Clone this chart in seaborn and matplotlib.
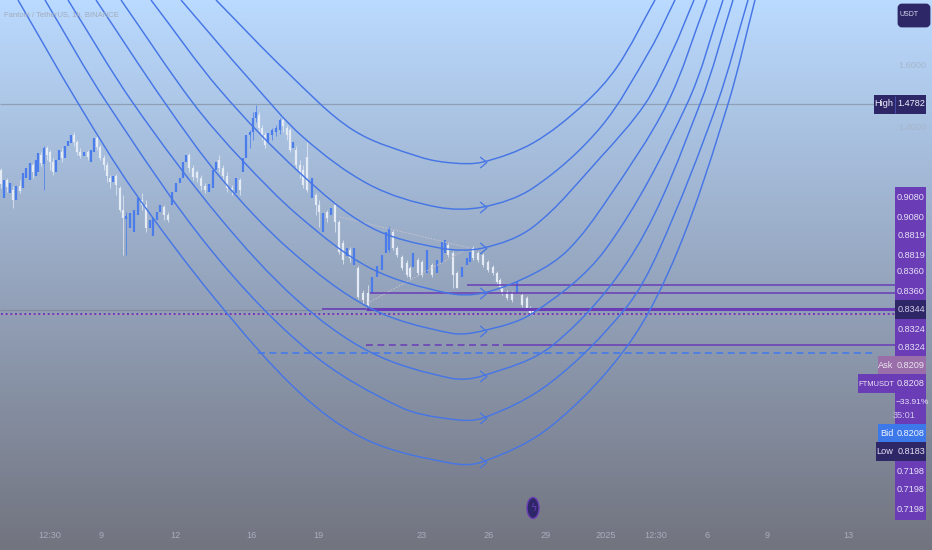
"""
FTM/USDT 1h chart with a fan of arcs, drawn on a chart-unit axis (0-932, 550-0).
"""

import matplotlib.pyplot as plt
from matplotlib.colors import LinearSegmentedColormap
from matplotlib.patches import Rectangle, FancyBboxPatch, Ellipse, PathPatch
from matplotlib.path import Path
import numpy as np
import pandas as pd
import seaborn as sns

# candles, values in chart units (smaller = higher price)
candle_x = [1, 4, 7, 10, 13, 16, 20, 23, 26, 30, 33, 36, 38, 41, 44, 47, 50, 53, 56, 59,
            62, 65, 68, 71, 74, 77, 80, 84, 88, 91, 94, 97, 100, 104, 107, 110, 113, 116, 120, 123,
            126, 130, 134, 138, 142, 146, 150, 153, 157, 160, 164, 168, 172, 176, 180, 183, 186, 189, 193, 197,
            201, 205, 209, 213, 216, 219, 223, 227, 232, 236, 240, 243, 246, 250, 253, 256, 259, 262, 265, 268,
            272, 276, 280, 283, 287, 290, 293, 296, 300, 303, 307, 312, 316, 319, 323, 327, 331, 335, 339, 343,
            347, 350, 354, 358, 363, 368, 372, 377, 382, 386, 389, 393, 397, 402, 407, 410, 413, 418, 422, 427,
            432, 437, 442, 445, 448, 453, 457, 462, 467, 470, 473, 478, 483, 488, 493, 497, 500, 502, 507, 512,
            517, 522, 527, 530, 533]
candle_open = [170, 198, 180, 193, 190, 200, 186, 188, 178, 180, 165, 176, 172, 155, 164, 148, 152, 162, 172, 160,
               152, 158, 146, 143, 135, 142, 152, 156, 152, 162, 152, 138, 147, 158, 165, 178, 182, 176, 188, 210,
               219, 228, 232, 215, 200, 205, 228, 236, 220, 212, 207, 215, 205, 192, 183, 178, 162, 155, 168, 172,
               178, 186, 192, 188, 170, 160, 168, 176, 188, 193, 180, 172, 158, 135, 132, 118, 115, 128, 135, 142,
               135, 132, 130, 120, 128, 130, 148, 150, 165, 170, 157, 198, 195, 205, 232, 212, 215, 205, 222, 243,
               256, 250, 265, 268, 293, 293, 293, 277, 270, 253, 250, 232, 248, 257, 263, 268, 267, 260, 262, 273,
               265, 273, 263, 253, 245, 253, 273, 277, 265, 262, 248, 253, 255, 262, 267, 273, 280, 287, 292, 293,
               293, 295, 298, 308, 310]
candle_close = [184, 180, 187, 183, 200, 186, 191, 173, 168, 163, 172, 160, 153, 163, 148, 155, 162, 172, 160, 150,
                158, 146, 141, 135, 142, 152, 156, 152, 157, 150, 138, 147, 158, 165, 176, 182, 176, 185, 210, 218,
                216, 213, 210, 198, 205, 228, 220, 218, 212, 205, 215, 220, 192, 183, 178, 162, 155, 168, 177, 178,
                186, 190, 184, 170, 162, 168, 176, 188, 190, 178, 190, 158, 135, 132, 118, 112, 128, 135, 145, 133,
                130, 128, 120, 126, 135, 150, 142, 165, 172, 185, 190, 178, 205, 212, 213, 218, 208, 222, 252, 260,
                248, 258, 248, 297, 300, 305, 277, 266, 255, 232, 228, 248, 255, 268, 275, 277, 253, 273, 275, 250,
                275, 260, 242, 240, 255, 275, 288, 267, 258, 252, 258, 260, 265, 270, 273, 282, 287, 293, 298, 300,
                282, 305, 308, 313, 313]
candle_high = [168, 200, 178, 195, 186, 205, 180, 190, 180, 182, 163, 178, 175, 152, 146, 146, 150, 158, 174, 162,
               148, 162, 150, 146, 132, 140, 148, 157, 150, 165, 155, 136, 145, 155, 162, 175, 184, 174, 186, 195,
               212, 232, 240, 218, 193, 200, 232, 238, 222, 215, 205, 212, 208, 195, 185, 182, 165, 153, 165, 170,
               175, 183, 195, 198, 172, 155, 165, 172, 185, 197, 178, 180, 165, 130, 112, 105, 112, 125, 132, 145,
               128, 125, 118, 118, 125, 128, 152, 146, 160, 165, 142, 202, 193, 200, 237, 210, 218, 202, 220, 240,
               262, 247, 267, 266, 290, 285, 295, 280, 272, 256, 226, 230, 246, 255, 260, 266, 269, 258, 260, 275,
               263, 275, 265, 253, 243, 251, 271, 279, 267, 264, 246, 251, 253, 260, 265, 271, 278, 285, 290, 291,
               295, 293, 296, 306, 308]
candle_low = [188, 200, 192, 195, 208, 205, 193, 190, 180, 182, 178, 178, 175, 166, 190, 160, 170, 175, 174, 162,
              162, 162, 150, 146, 146, 155, 158, 157, 160, 165, 155, 150, 160, 170, 182, 188, 184, 195, 212, 255,
              255, 232, 240, 218, 210, 232, 232, 238, 222, 215, 220, 222, 208, 195, 185, 182, 165, 172, 180, 182,
              190, 193, 195, 198, 172, 172, 180, 192, 195, 197, 195, 180, 165, 148, 140, 122, 132, 140, 148, 145,
              140, 136, 134, 132, 140, 152, 152, 170, 178, 188, 192, 202, 215, 227, 237, 222, 218, 232, 254, 264,
              262, 262, 267, 299, 304, 307, 295, 280, 272, 256, 252, 250, 257, 270, 277, 279, 269, 275, 277, 275,
              277, 275, 265, 253, 257, 288, 288, 279, 267, 264, 260, 262, 267, 272, 275, 284, 289, 295, 300, 302,
              295, 307, 310, 315, 315]

# arcs: x and y
arc1_x = [216, 287, 353, 420, 453, 483, 533, 583, 617, 655]
arc1_y = [0, 72, 130, 157, 163, 162, 143, 105, 67, 0]
arc2_x = [181, 250, 303, 370, 437, 483, 533, 600, 650, 675]
arc2_y = [0, 80, 137, 185, 207, 207, 188, 128, 50, 0]
arc3_x = [151, 220, 300, 370, 440, 483, 533, 600, 645, 672, 694]
arc3_y = [0, 90, 173, 227, 248, 248, 227, 158, 104, 52, 0]
arc4_x = [121, 193, 242, 300, 370, 447, 483, 533, 568, 607, 667, 707]
arc4_y = [0, 103, 160, 217, 268, 293, 293, 274, 250, 200, 104, 0]
arc5_x = [96, 165, 220, 290, 370, 450, 482, 533, 605, 687, 723]
arc5_y = [0, 103, 177, 250, 308, 333, 331, 313, 250, 104, 0]
arc6_x = [68, 133, 220, 297, 370, 450, 482, 553, 635, 700, 733]
arc6_y = [0, 103, 218, 300, 352, 378, 376, 345, 250, 104, 0]
arc7_x = [45, 107, 211, 310, 400, 450, 483, 550, 625, 659, 717, 748]
arc7_y = [0, 103, 250, 352, 407, 419, 418, 383, 309, 250, 104, 0]
arc8_x = [18, 78, 133, 216, 300, 367, 450, 482, 550, 628, 678, 728, 755]
arc8_y = [0, 103, 190, 300, 393, 440, 463, 462, 427, 345, 250, 104, 0]
arc_bottoms = [162, 207, 248, 293, 331, 376, 418, 462]

# price scale and time scale labels
scale_prices = ['1.6000', '1.4000']
scale_price_y = [65, 128]
purple_labels = ['0.9080', '0.9080', '0.8819', '0.8819', '0.8360', '0.8360', '0.8324', '0.8324', '0.7198', '0.7198', '0.7198']
purple_label_y = [197, 217, 236, 255, 272, 291, 329, 348, 471, 490, 509]
time_labels = ['12:30', '9', '12', '16', '19', '23', '26', '29', '2025', '12:30', '6', '9', '13']
time_label_x = [50, 101, 175, 251, 318, 422, 489, 546, 606, 656, 707, 767, 848]

BLUE = '#4676e6'
PURPLE = '#6a3cb6'
NAVY = '#2d2768'
SCALE_FONT = 6.6


def smooth_path(points):
    """Bezier path running through the given points, for a clean curve."""
    n = len(points)
    verts = [points[0]]
    codes = [Path.MOVETO]
    for i in range(n - 1):
        p0, p1, p2, p3 = points[max(i - 1, 0)], points[i], points[i + 1], points[min(i + 2, n - 1)]
        seg = np.linalg.norm(p2 - p1)
        t1 = (p2 - p0) / np.linalg.norm(p2 - p0)
        t2 = (p3 - p1) / np.linalg.norm(p3 - p1)
        verts += [p1 + t1 * seg / 3, p2 - t2 * seg / 3, p2]
        codes += [Path.CURVE4] * 3
    return Path(verts, codes)


sns.set_theme(style='white')
plt.rcParams['font.family'] = ['Liberation Sans', 'DejaVu Sans']

fig, ax = plt.subplots(figsize=(9.32, 5.5), dpi=100)
fig.subplots_adjust(0, 0, 1, 1)

# background gradient
bg = LinearSegmentedColormap.from_list('bg', ['#badaff', '#96a6bf', '#72747f'])
ax.imshow(np.linspace(0, 1, 550).reshape(-1, 1), cmap=bg, aspect='auto',
          extent=(0, 932, 550, 0), zorder=0)

# candles
candles = pd.DataFrame({'x': candle_x, 'open': candle_open, 'close': candle_close,
                        'high': candle_high, 'low': candle_low})
candles['color'] = np.where(candles['close'] < candles['open'], '#4a7cec', '#e4ebf5')
ax.vlines(candles['x'], candles['high'], candles['low'], colors=candles['color'],
          linewidth=0.7, alpha=0.75, zorder=2)
ax.vlines(candles['x'], candles['open'], candles['close'], colors=candles['color'],
          linewidth=1.6, zorder=2)

# faint dotted pattern lines
ax.plot([340, 470], [217, 248], color='#c9c3cc', linewidth=0.7, linestyle=(0, (1.5, 1.5)), zorder=2)
ax.plot([368, 465], [303, 250], color='#c9c3cc', linewidth=0.7, linestyle=(0, (1.5, 1.5)), zorder=2)

# horizontal levels
ax.hlines(104, 0, 895, color='#8f9fb5', linewidth=0.9, zorder=1)
ax.hlines(310, 0, 322, color='#7f8a9c', linewidth=0.8, zorder=1)
ax.hlines(308.5, 322, 366, color=PURPLE, linewidth=1.2, zorder=3)
ax.hlines(309, 366, 895, color=PURPLE, linewidth=2.2, zorder=3)
ax.hlines(293, 370, 895, color=PURPLE, linewidth=1.1, zorder=3)
ax.hlines(285, 467, 895, color=PURPLE, linewidth=1.1, zorder=3)
ax.hlines(345, 366, 502, color=PURPLE, linewidth=1.1, linestyle=(0, (4.5, 3)), zorder=3)
ax.hlines(345, 503, 895, color=PURPLE, linewidth=1.1, zorder=3)
ax.hlines(352.5, 258, 875, color='#3f78f0', linewidth=1.1, linestyle=(0, (4.5, 3)), zorder=3)
ax.hlines(313.5, 0, 895, color='#c08fb5', linewidth=0.7, alpha=0.8, zorder=3)
ax.hlines(313.5, 1, 895, color=PURPLE, linewidth=1.4, linestyle=(0, (1, 1.4)), zorder=3)

# arc fan: seaborn lays out each arc, then the line is redrawn as a smooth curve
arcs = [(arc1_x, arc1_y), (arc2_x, arc2_y), (arc3_x, arc3_y), (arc4_x, arc4_y),
        (arc5_x, arc5_y), (arc6_x, arc6_y), (arc7_x, arc7_y), (arc8_x, arc8_y)]
chevron = Path([(-0.6, -1), (0.6, 0), (-0.6, 1)], [Path.MOVETO, Path.LINETO, Path.LINETO])
for arc_x, arc_y in arcs:
    sns.lineplot(x=arc_x, y=arc_y, ax=ax, estimator=None, sort=False)
    line = ax.lines[-1]
    ax.add_patch(PathPatch(smooth_path(line.get_xydata()), facecolor='none', edgecolor=BLUE,
                           linewidth=1.05, zorder=4))
    line.remove()
ax.plot([483] * len(arc_bottoms), arc_bottoms, linestyle='none', marker=chevron, markersize=8,
        markerfacecolor='none', markeredgecolor=BLUE, markeredgewidth=0.9, zorder=4)

# symbol line and faint price ticks
ax.text(4, 15, 'Fantom / TetherUS, 1h, BINANCE', fontsize=5.5, color='#a3abbc', va='center', zorder=5)
for label, y in zip(scale_prices, scale_price_y):
    ax.text(912, y, label, fontsize=SCALE_FONT, color='#a6b6cb', ha='center', va='center', zorder=5)

# price scale tags
ax.add_patch(FancyBboxPatch((899, 5), 30, 21, boxstyle='round,pad=0,rounding_size=3',
                            facecolor=NAVY, edgecolor=NAVY, linewidth=2, zorder=5))
ax.text(909, 15, 'USDT', fontsize=5, color='#d8d8ee', ha='center', va='center', zorder=6)
tag_boxes = [(874, 95, 52, 19, NAVY), (895, 187, 31, 170, PURPLE), (878, 356, 48, 19, '#9a6ea8'),
             (858, 374, 37, 19, PURPLE), (895, 374, 31, 50, PURPLE), (878, 424, 48, 18, '#3c78ea'),
             (876, 442, 50, 19, NAVY), (895, 461, 31, 59, PURPLE), (895, 300, 31, 19, NAVY)]
for x0, y0, w, h, color in tag_boxes:
    ax.add_patch(Rectangle((x0, y0), w, h, facecolor=color, edgecolor='none', zorder=5))
ax.vlines(895, 96, 113, color='#4a50b0', linewidth=0.7, zorder=6)

for label, y in zip(purple_labels, purple_label_y):
    ax.text(911, y, label, fontsize=SCALE_FONT, color='#e6e2f5', ha='center', va='center', zorder=6)
tag_texts = [(911, 104, '1.4782', '#f0f0fa'), (884, 104, 'High', '#f0f0fa'), (911, 310, '0.8344', '#d0cde8'),
             (911, 366, '0.8209', '#ece4f2'), (886, 366, 'Ask', '#ece4f2'), (911, 384, '0.8208', '#ece4f2'),
             (904, 415, '35:01', '#cfc6e8'),
             (911, 434, '0.8208', '#f0f4ff'), (887, 434, 'Bid', '#f0f4ff'), (911, 452, '0.8183', '#e6e2f5'),
             (885, 452, 'Low', '#e6e2f5')]
for x0, y0, text, color in tag_texts:
    ax.text(x0, y0, text, fontsize=SCALE_FONT, color=color, ha='center', va='center', zorder=6)
ax.text(912, 402, '\u221233.91%', fontsize=6, color='#e6e2f5', ha='center', va='center', zorder=6)
ax.text(876.5, 384, 'FTMUSDT', fontsize=5.4, color='#ece4f2', ha='center', va='center', zorder=6)

# time axis and bolt marker
for label, x in zip(time_labels, time_label_x):
    ax.text(x, 535, label, fontsize=SCALE_FONT, color='#a8adbc', ha='center', va='center', zorder=5)
ax.add_patch(Ellipse((533, 508), 12, 21, facecolor=NAVY, edgecolor=PURPLE, linewidth=1, zorder=5))
ax.text(533, 508, '\u03df', fontsize=7, color=PURPLE, ha='center', va='center', zorder=6, family='DejaVu Sans')

ax.set_xlim(0, 932)
ax.set_ylim(550, 0)
ax.axis('off')

plt.savefig('out.png', dpi=100)
